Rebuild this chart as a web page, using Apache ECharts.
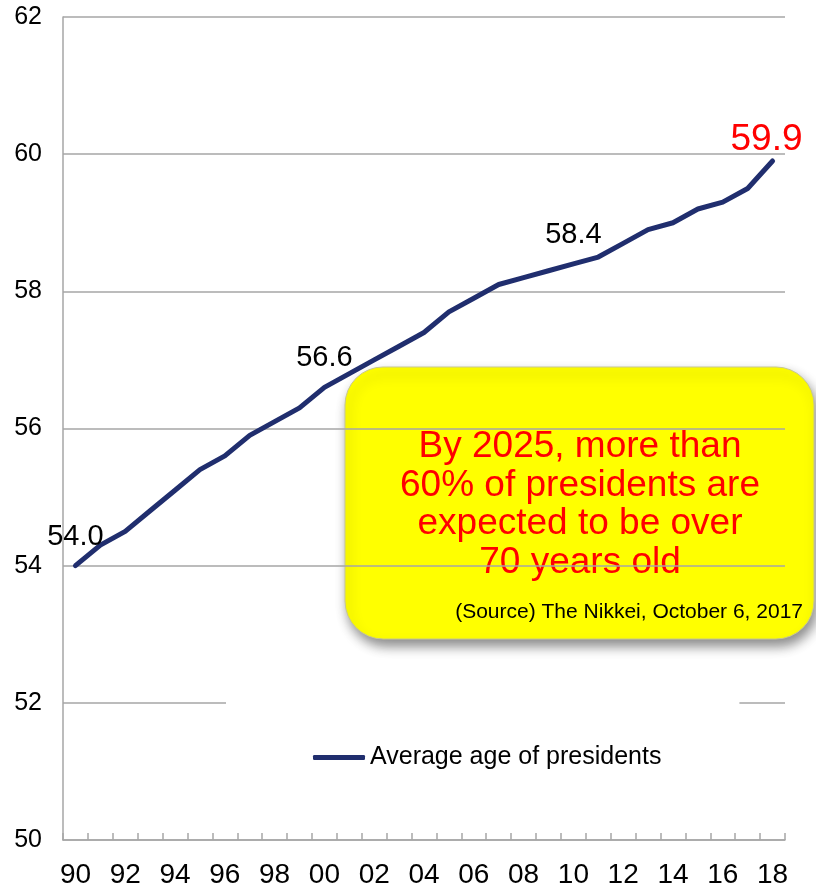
<!DOCTYPE html>
<html>
<head>
<meta charset="utf-8">
<script src="https://cdn.jsdelivr.net/npm/echarts@6/dist/echarts.min.js"></script>
<style>
  html, body { margin: 0; padding: 0; background: #ffffff; }
  #chart { width: 816px; height: 889px; }
</style>
</head>
<body>
<div id="chart"></div>
<script>
// Fiscal years 1990–2018 (two-digit labels)
const years = ['90','91','92','93','94','95','96','97','98','99','00','01','02','03','04','05','06','07','08','09','10','11','12','13','14','15','16','17','18'];
// Average age of company presidents
const avgAge = [54.0, 54.3, 54.5, 54.8, 55.1, 55.4, 55.6, 55.9, 56.1, 56.3, 56.6, 56.8, 57.0, 57.2, 57.4, 57.7, 57.9, 58.1, 58.2, 58.3, 58.4, 58.5, 58.7, 58.9, 59.0, 59.2, 59.3, 59.5, 59.9];
// Years whose values are written next to the line
const labelledYears = ['90', '00', '10'];
const latestYear = '18';

const seriesName = 'Average age of presidents';
const noteLines = ['By 2025, more than', '60% of presidents are', 'expected to be over', '70 years old'];
const sourceNote = '(Source) The Nikkei, October 6, 2017';

const FONT = '"Liberation Sans", Arial, sans-serif';
const NAVY = '#202E6E';
const GRID = '#a6a6a6';

function oneDecimal(p) { return Number(p.value).toFixed(1); }

const seriesData = avgAge.map(function (v, i) {
  const y = years[i];
  if (labelledYears.indexOf(y) >= 0) {
    return {
      value: v,
      label: { show: true, position: 'top', distance: 14, color: '#000', fontSize: 29, fontFamily: FONT, formatter: oneDecimal }
    };
  }
  if (y === latestYear) {
    return {
      value: v,
      label: { show: true, position: 'top', distance: 2, offset: [-6, 0], color: '#ff0000', fontSize: 37, fontFamily: FONT, formatter: oneDecimal }
    };
  }
  return v;
});

const chart = echarts.init(document.getElementById('chart'), null, { renderer: 'canvas' });

chart.setOption({
  animation: false,
  backgroundColor: '#ffffff',
  grid: { left: 63, right: 31, top: 17, bottom: 47, containLabel: false },
  legend: {
    data: [{ name: seriesName, icon: 'roundRect' }],
    left: 226,
    top: 690,
    padding: [55, 78, 45, 87],
    backgroundColor: '#ffffff',
    itemWidth: 52,
    itemHeight: 5,
    itemStyle: { color: NAVY, borderWidth: 0 },
    textStyle: { color: '#000', fontSize: 25, fontFamily: FONT },
    z: 5
  },
  xAxis: {
    type: 'category',
    data: years,
    boundaryGap: true,
    axisLine: { show: true, lineStyle: { color: GRID, width: 1.5 } },
    axisTick: { show: true, inside: true, length: 7, interval: 0, alignWithLabel: false, lineStyle: { color: GRID, width: 1.5 } },
    axisLabel: { interval: 1, margin: 21, color: '#000', fontSize: 28, fontFamily: FONT },
    splitLine: { show: false }
  },
  yAxis: {
    type: 'value',
    min: 50,
    max: 62,
    interval: 2,
    axisLine: { show: true, lineStyle: { color: GRID, width: 1.5 } },
    axisTick: { show: false },
    axisLabel: { margin: 21, color: '#000', fontSize: 25, fontFamily: FONT },
    splitLine: { show: true, lineStyle: { color: GRID, width: 1.5 } }
  },
  series: [{
    name: seriesName,
    type: 'line',
    data: seriesData,
    smooth: false,
    symbol: 'circle',
    symbolSize: 1,
    showSymbol: true,
    showAllSymbol: true,
    lineStyle: { color: NAVY, width: 5, cap: 'round', join: 'round' },
    itemStyle: { color: NAVY },
    z: 3
  }],
  graphic: [{
    type: 'group',
    z: 10,
    children: [
      {
        type: 'rect',
        shape: { x: 345, y: 367, width: 469, height: 272, r: 38 },
        style: {
          fill: '#ffff00',
          stroke: '#c9c98c',
          lineWidth: 1,
          shadowBlur: 12,
          shadowOffsetX: 3,
          shadowOffsetY: 7,
          shadowColor: 'rgba(0,0,0,0.45)'
        }
      },
      {
        type: 'text',
        x: 580,
        y: 428,
        style: {
          text: noteLines.join('\n'),
          fill: '#ff0000',
          font: '37px ' + FONT,
          lineHeight: 38.5,
          align: 'center',
          verticalAlign: 'top'
        }
      },
      {
        type: 'text',
        x: 803,
        y: 612,
        style: {
          text: sourceNote,
          fill: '#000000',
          font: '21px ' + FONT,
          align: 'right',
          verticalAlign: 'middle'
        }
      }
    ]
  }]
});
</script>
</body>
</html>
